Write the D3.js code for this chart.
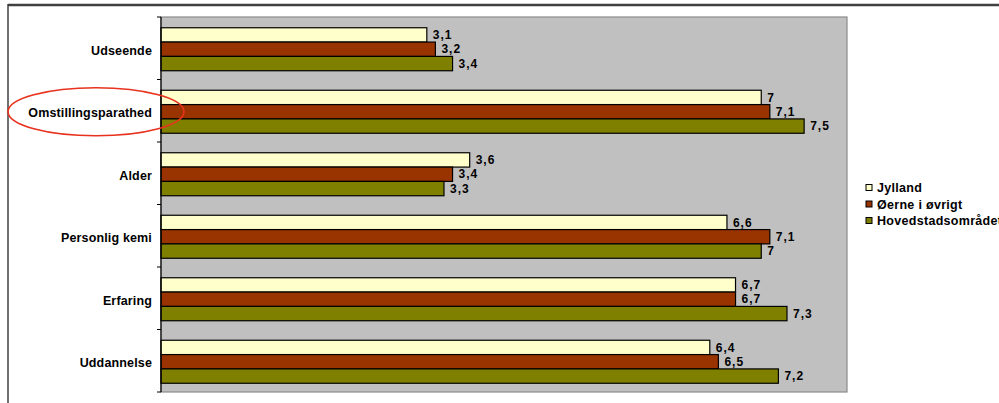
<!DOCTYPE html>
<html>
<head>
<meta charset="utf-8">
<script src="https://cdn.jsdelivr.net/npm/d3@7"></script>
<style>
  body { margin: 0; background: #fff; }
  svg text { font-family: "Liberation Sans", Arial, sans-serif; font-weight: bold; }
</style>
</head>
<body>
<div id="chart"></div>
<script>
var categories = ["Udseende", "Omstillingsparathed", "Alder", "Personlig kemi", "Erfaring", "Uddannelse"];
var seriesNames = ["Jylland", "Øerne i øvrigt", "Hovedstadsområdet"];
var jylland = [3.1, 7, 3.6, 6.6, 6.7, 6.4];
var oerne = [3.2, 7.1, 3.4, 7.1, 6.7, 6.5];
var hovedstad = [3.4, 7.5, 3.3, 7, 7.3, 7.2];
var colors = ["#FFFFCC", "#993300", "#808000"];

var width = 999, height = 403,
    plotLeft = 161, plotRight = 847, plotTop = 17, plotBottom = 392;

var rows = categories.map(function(c, i) {
  return {cat: c, vals: [jylland[i], oerne[i], hovedstad[i]]};
});

var svg = d3.select("#chart").append("svg")
  .attr("width", width)
  .attr("height", height);

// outer frame
svg.append("line").attr("x1", 8).attr("x2", width).attr("y1", 5).attr("y2", 5)
  .attr("stroke", "#404040").attr("stroke-width", 2.5);
svg.append("line").attr("x1", 8).attr("x2", 8).attr("y1", 4).attr("y2", height)
  .attr("stroke", "#404040").attr("stroke-width", 1.5);

var x = d3.scaleLinear().domain([0, 8]).range([plotLeft, plotRight]);
var y = d3.scaleBand().domain(categories).range([plotTop, plotBottom]);
var inner = d3.scaleBand().domain(d3.range(3))
  .range([0, 43]);

// plot area
svg.append("rect")
  .attr("x", plotLeft).attr("y", plotTop)
  .attr("width", plotRight - plotLeft).attr("height", plotBottom - plotTop)
  .attr("fill", "#C0C0C0")
  .attr("stroke", "#8a8a8a").attr("stroke-width", 1.2);

var groupOffset = (y.bandwidth() - 43) / 2 + 1;

var bar = svg.selectAll("g.row")
  .data(rows)
  .enter()
  .append("g")
  .attr("class", "row")
  .attr("transform", function(d) { return "translate(0," + (y(d.cat) + groupOffset) + ")"; });

bar.selectAll("rect")
  .data(function(d) { return d.vals; })
  .enter()
  .append("rect")
  .attr("x", x(0))
  .attr("y", function(d, i) { return inner(i); })
  .attr("width", function(d) { return x(d) - x(0); })
  .attr("height", inner.bandwidth())
  .attr("fill", function(d, i) { return colors[i]; })
  .attr("stroke", "#000")
  .attr("stroke-width", 1.2);

bar.selectAll("text.value")
  .data(function(d) { return d.vals; })
  .enter()
  .append("text")
  .attr("class", "value")
  .attr("x", function(d) { return x(d) + 6; })
  .attr("y", function(d, i) { return inner(i) + inner.bandwidth() / 2; })
  .attr("dy", ".35em")
  .attr("font-size", "12px")
  .attr("letter-spacing", "1px")
  .attr("fill", "#000")
  .text(function(d) { return String(d).replace(".", ","); });

// category axis
var axis = svg.append("g")
  .attr("transform", "translate(" + plotLeft + ",0)");
axis.append("line").attr("x1", 0).attr("x2", 0).attr("y1", plotTop).attr("y2", plotBottom)
  .attr("stroke", "#000").attr("stroke-width", 1.2);
axis.selectAll("line.tick")
  .data(categories.concat(["end"]))
  .enter()
  .append("line")
  .attr("class", "tick")
  .attr("x1", -4).attr("x2", 0)
  .attr("y1", function(d, i) { return plotTop + i * y.step(); })
  .attr("y2", function(d, i) { return plotTop + i * y.step(); })
  .attr("stroke", "#000");
axis.selectAll("text")
  .data(categories)
  .enter()
  .append("text")
  .attr("x", -9)
  .attr("y", function(d) { return y(d) + y.bandwidth() / 2 + 2; })
  .attr("dy", ".35em")
  .attr("text-anchor", "end")
  .attr("font-size", "12.5px")
  .attr("letter-spacing", "0.15px")
  .attr("fill", "#000")
  .text(function(d) { return d; });

// legend
var legend = svg.selectAll("g.legend")
  .data(seriesNames)
  .enter()
  .append("g")
  .attr("class", "legend")
  .attr("transform", function(d, i) { return "translate(866," + (188 + i * 16.5) + ")"; });
legend.append("rect")
  .attr("x", 0).attr("y", -3.5)
  .attr("width", 6).attr("height", 6)
  .attr("fill", function(d, i) { return colors[i]; })
  .attr("stroke", "#000");
legend.append("text")
  .attr("x", 11).attr("y", 0)
  .attr("dy", ".35em")
  .attr("font-size", "12.5px")
  .attr("letter-spacing", "0.3px")
  .attr("fill", "#000")
  .text(function(d) { return d; });

// red highlight ellipse
svg.append("ellipse")
  .attr("cx", 96).attr("cy", y("Omstillingsparathed") + y.bandwidth() / 2 + 1)
  .attr("rx", 88).attr("ry", 24)
  .attr("fill", "none")
  .attr("stroke", "#E8321E")
  .attr("stroke-width", 1.6);
</script>
</body>
</html>
